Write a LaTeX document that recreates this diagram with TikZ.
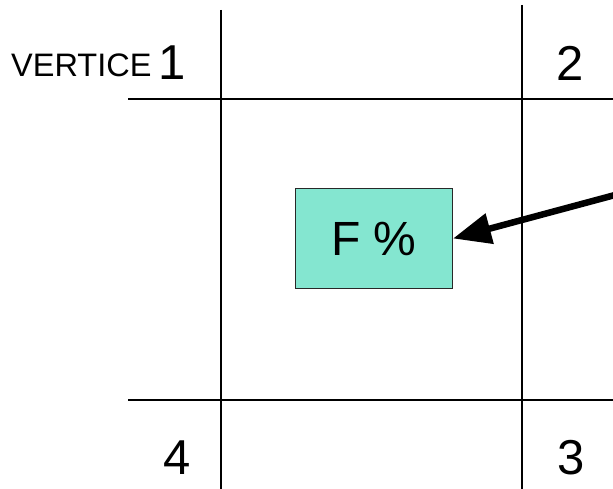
\documentclass[tikz,border=0pt]{standalone}
\usepackage{fontspec}
\setmainfont{Liberation Sans}
\usetikzlibrary{arrows.meta}
\definecolor{boxfill}{RGB}{132,230,208}
\definecolor{boxline}{RGB}{40,40,40}
\tikzset{
  gridline/.style={line width=1.8pt, black},
  digit/.style={font=\fontsize{49}{52}\selectfont, inner sep=0pt, anchor=base},
  smalllabel/.style={font=\fontsize{32.5}{35}\selectfont, inner sep=0pt, anchor=base west},
  fbox/.style={draw=boxline, line width=1pt, fill=boxfill, minimum width=157pt, minimum height=99pt, inner sep=0pt, font=\fontsize{48}{50}\selectfont},
  bigarrow/.style={line width=6.5pt, -{Triangle[length=38pt,width=30pt]}}
}
\begin{document}
\begin{tikzpicture}[x=1pt,y=-1pt]
\useasboundingbox (0,0) rectangle (613,489);
% grid
\coordinate (v1t) at (221,10);
\coordinate (v1b) at (221,489);
\coordinate (v2t) at (522,5);
\coordinate (v2b) at (522,489);
\coordinate (h1l) at (128,99);
\coordinate (h1r) at (613,99);
\coordinate (h2l) at (128,400);
\coordinate (h2r) at (613,400);
\draw[gridline] (v1t) -- (v1b);
\draw[gridline] (v2t) -- (v2b);
\draw[gridline] (h1l) -- (h1r);
\draw[gridline] (h2l) -- (h2r);
% labels
\node[smalllabel] (vert) at (11,77) {VERTICE};
\node[digit] (n1) at (172,80) {1};
\node[digit] (n2) at (570,81) {2};
\node[digit] (n4) at (177,474) {4};
\node[digit] (n3) at (571,474) {3};
% box
\node[fbox] (fb) at (374,238.5) {F \%};
\coordinate (astart) at (615,195);
\draw[bigarrow] (astart) -- (fb.east);
\end{tikzpicture}
\end{document}
